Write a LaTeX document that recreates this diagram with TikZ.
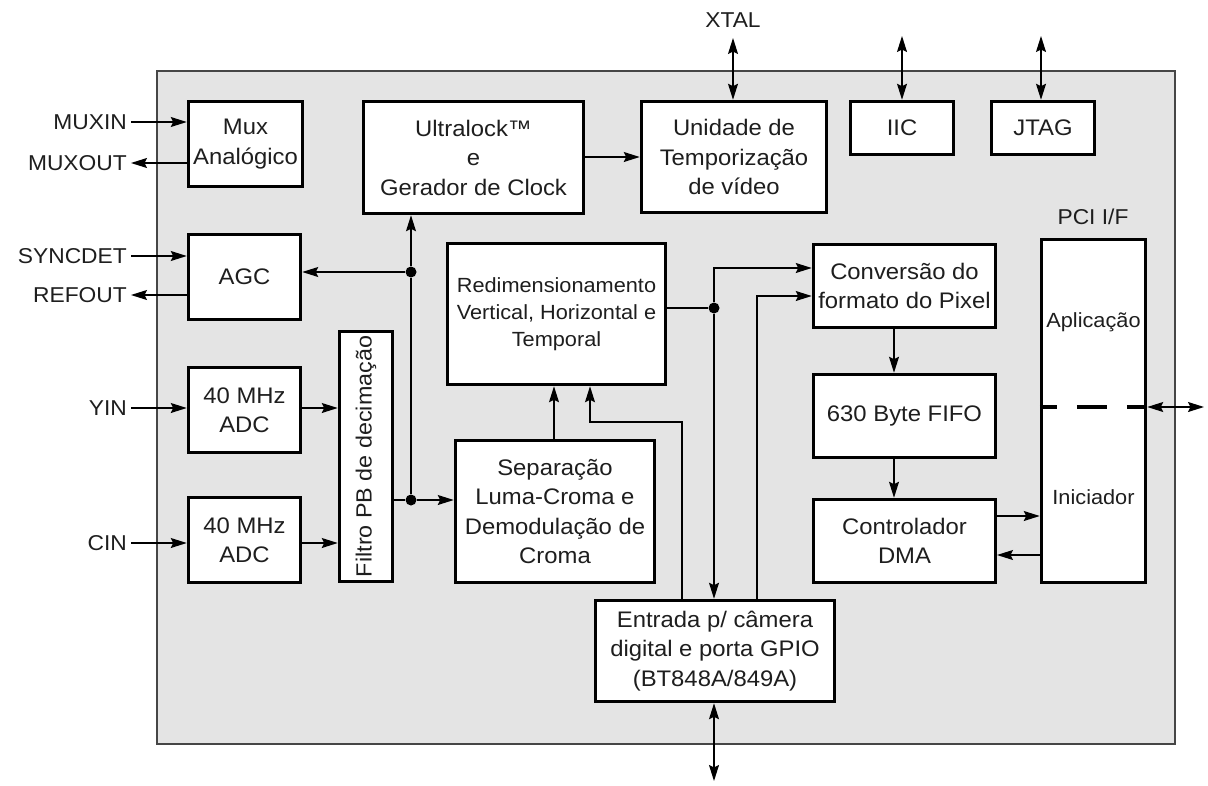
\documentclass[tikz,border=0pt]{standalone}
\usepackage{fontspec}
\setmainfont{Liberation Sans}[FakeStretch=1.06]
\usepackage{graphicx}
\usetikzlibrary{arrows.meta, positioning}
\definecolor{chipgray}{RGB}{228,228,228}
\definecolor{edgegray}{RGB}{70,70,70}
\definecolor{inkgray}{RGB}{30,30,30}
\tikzset{
  blk/.style={draw=black, line width=3.5pt, fill=white, align=center, inner sep=0pt,
    text=inkgray, font=\fontsize{22.5}{29.5}\selectfont},
  pinlbl/.style={text=inkgray, font=\fontsize{21.5}{26}\selectfont, inner sep=4pt},
  tip/.tip={Stealth[length=16pt,width=10pt,inset=2.5pt]},
  wire/.style={line width=1.3pt, draw=black, -tip},
  plain/.style={line width=1.3pt, draw=black},
  bus/.style={line width=1.3pt, draw=black, tip-tip},
  dot/.style={circle, fill=black, inner sep=0pt, minimum size=11pt},
}

\begin{document}
\begin{tikzpicture}[x=1pt, y=-1pt]
    \useasboundingbox (0,0) rectangle (1208,785);

    % chip
    \draw[draw=edgegray, line width=1.3pt, fill=chipgray] (157,71) rectangle (1175,744);

    % blocks
    \node[blk, minimum width=114, minimum height=85] (mux) at (245.5,144) {Mux\\Analógico};
    \node[blk, minimum width=112, minimum height=85] (agc) at (244.5,277) {AGC};
    \node[blk, minimum width=112, minimum height=85] (adcy) at (244.5,410) {40 MHz\\ADC};
    \node[blk, minimum width=112, minimum height=85] (adcc) at (244.5,540) {40 MHz\\ADC};
    \node[blk, minimum width=53, minimum height=250] (filtro) at (366,456.5)
        {\rotatebox{90}{\fontsize{22}{26}\selectfont Filtro PB de decimação}};
    \node[blk, minimum width=220, minimum height=112] (ultra) at (473.5,157.5)
        {Ultralock™\\e\\Gerador de Clock};
    \node[blk, minimum width=185, minimum height=111] (tempo) at (734,157)
        {Unidade de\\Temporização\\de vídeo};
    \node[blk, minimum width=103, minimum height=53] (iic) at (902,128) {IIC};
    \node[blk, minimum width=103, minimum height=53] (jtag) at (1043,128) {JTAG};
    \node[blk, minimum width=218, minimum height=141, font=\fontsize{20.5}{27}\selectfont] (redim) at (556.5,314)
        {Redimensionamento\\Vertical, Horizontal e\\Temporal};
    \node[blk, minimum width=199, minimum height=142] (sep) at (555,511.5)
        {Separação\\Luma-Croma e\\Demodulação de\\Croma};
    \node[blk, minimum width=239, minimum height=101] (entr) at (715,651)
        {Entrada p/ câmera\\digital e porta GPIO\\(BT848A/849A)};
    \node[blk, minimum width=182, minimum height=83] (conv) at (904.5,286)
        {Conversão do\\formato do Pixel};
    \node[blk, minimum width=182, minimum height=83] (fifo) at (904.5,416) {630 Byte FIFO};
    \node[blk, minimum width=182, minimum height=83] (dma) at (904.5,541) {Controlador\\DMA};
    \node[blk, minimum width=104, minimum height=343] (pci) at (1093.5,411) {};
    \node[pinlbl, font=\fontsize{20.5}{26}\selectfont] (apl) at (1093.5,322) {Aplicação};
    \node[pinlbl, font=\fontsize{20.5}{26}\selectfont] (ini) at (1093.5,497) {Iniciador};
    \node[pinlbl] (pcilbl) at (1093,217) {PCI I/F};

    % pins
    \node[pinlbl, anchor=east] (muxin) at (131,122) {MUXIN};
    \node[pinlbl, anchor=east] (muxout) at (131,163) {MUXOUT};
    \node[pinlbl, anchor=east] (syncdet) at (131,256) {SYNCDET};
    \node[pinlbl, anchor=east] (refout) at (131,295) {REFOUT};
    \node[pinlbl, anchor=east] (yin) at (131,408) {YIN};
    \node[pinlbl, anchor=east] (cin) at (131,543) {CIN};
    \node[pinlbl] (xtal) at (733,20) {XTAL};

    \coordinate (xtalpin) at (733,38);
    \coordinate (iicpin) at (902,36);
    \coordinate (jtagpin) at (1041,36);
    \coordinate (pcipin) at (1204,407);
    \coordinate (gpiopin) at (714,781);

    % junctions and bends
    \node[dot] (j1) at (411,272) {};
    \node[dot] (j2) at (411,500) {};
    \node[dot] (j3) at (714,308) {};
    \coordinate (c1) at (714,268);
    \coordinate (c2) at (757,296);
    \coordinate (c3) at (682,422);
    \coordinate (c4) at (590,422);
    \coordinate (d1) at (997,516);
    \coordinate (d2) at (997,555);
    \coordinate (f1) at (894,329);
    \coordinate (pcimid) at (1093.5,407);

    % inputs and outputs
    \draw[wire] (muxin.east) -- (muxin.east -| mux.west);
    \draw[wire] (muxout.east -| mux.west) -- (muxout.east);
    \draw[wire] (syncdet.east) -- (syncdet.east -| agc.west);
    \draw[wire] (refout.east -| agc.west) -- (refout.east);
    \draw[wire] (yin.east) -- (yin.east -| adcy.west);
    \draw[wire] (cin.east) -- (cin.east -| adcc.west);
    \draw[bus] (xtalpin) -- (xtalpin |- tempo.north);
    \draw[bus] (iicpin) -- (iicpin |- iic.north);
    \draw[bus] (jtagpin) -- (jtagpin |- jtag.north);
    \draw[bus] (pcimid -| pci.east) -- (pcipin);
    \draw[bus] (gpiopin |- entr.south) -- (gpiopin);

    % internal paths
    \draw[wire] (yin.east -| adcy.east) -- (yin.east -| filtro.west);
    \draw[wire] (cin.east -| adcc.east) -- (cin.east -| filtro.west);
    \draw[plain] (j2 -| filtro.east) -- (j2);
    \draw[wire] (j2) -- (j2 -| sep.west);
    \draw[plain] (j2) -- (j1);
    \draw[wire] (j1) -- (j1 |- ultra.south);
    \draw[wire] (j1) -- (j1 -| agc.east);
    \draw[wire] (ultra.east |- tempo.west) -- (tempo.west);
    \draw[wire] (sep.north -| 554,0) -- (redim.south -| 554,0);
    \draw[wire] (c3 |- entr.north) -- (c3) -- (c4) -- (c4 |- redim.south);
    \draw[plain] (j3 -| redim.east) -- (j3);
    \draw[wire] (j3) -- (c1) -- (c1 -| conv.west);
    \draw[wire] (j3) -- (j3 |- entr.north);
    \draw[wire] (c2 |- entr.north) -- (c2) -- (c2 -| conv.west);
    \draw[wire] (f1) -- (f1 |- fifo.north);
    \draw[wire] (f1 |- fifo.south) -- (f1 |- dma.north);
    \draw[wire] (d1) -- (d1 -| pci.west);
    \draw[wire] (d2 -| pci.west) -- (d2);
    \draw[line width=4pt, dash pattern=on 30pt off 20pt, dash phase=13pt]
        (pcimid -| pci.west) -- (pcimid -| pci.east);
\end{tikzpicture}
\end{document}
